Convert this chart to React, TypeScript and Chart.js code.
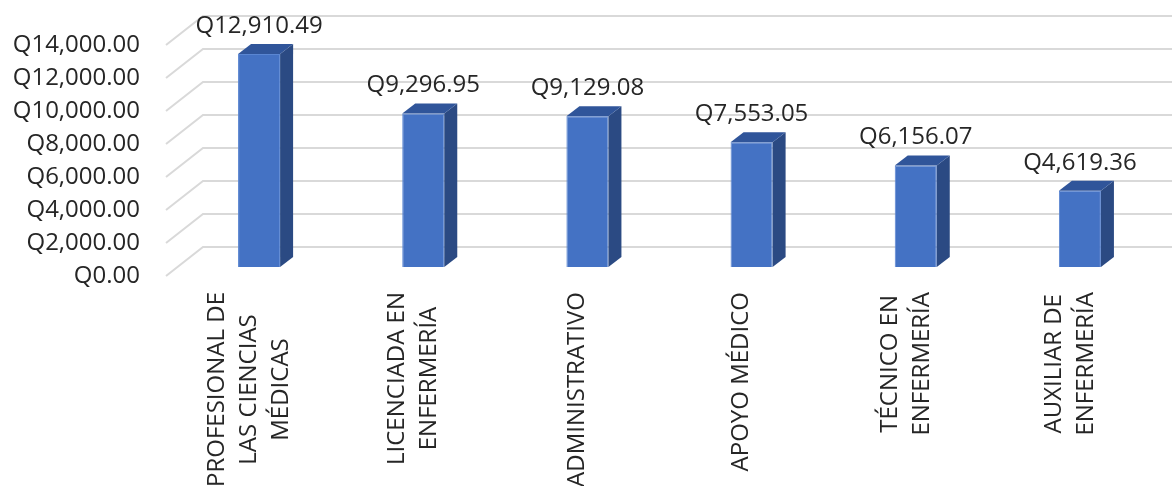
import React, { useEffect, useRef } from "react";
import { Chart, registerables } from "chart.js";

Chart.register(...registerables);

const categories: string[][] = [
  ["PROFESIONAL DE", "LAS CIENCIAS", "MÉDICAS"],
  ["LICENCIADA EN", "ENFERMERÍA"],
  ["ADMINISTRATIVO"],
  ["APOYO MÉDICO"],
  ["TÉCNICO EN", "ENFERMERÍA"],
  ["AUXILIAR DE", "ENFERMERÍA"],
];
const salaries: number[] = [12910.49, 9296.95, 9129.08, 7553.05, 6156.07, 4619.36];
const yTicks: number[] = [0, 2000, 4000, 6000, 8000, 10000, 12000, 14000];

const FONT = "'Open Sans', 'Liberation Sans', sans-serif";
const TEXT = "#262626";
const FRONT = "#4472C4";
const SIDE = "#2B4A83";
const TOP = "#30559A";
const GRID = "#D9D9D9";
const DX = 13;
const DY = 10;

const fmt = (v: number) =>
  "Q" + v.toLocaleString("en-US", { minimumFractionDigits: 2, maximumFractionDigits: 2 });

const threeD = {
  id: "threeD",
  beforeDatasetsDraw(chart: any) {
    const ctx = chart.ctx;
    const y = chart.scales.y;
    const left = chart.chartArea.left;
    ctx.save();
    ctx.strokeStyle = GRID;
    ctx.lineWidth = 2;
    yTicks.forEach((t) => {
      const py = y.getPixelForValue(t);
      const by = py - 20;
      ctx.beginPath();
      ctx.moveTo(left - 11, py + 9);
      ctx.lineTo(left + 26, by);
      ctx.lineTo(chart.width, by);
      ctx.stroke();
    });
    ctx.restore();
  },
  afterDatasetsDraw(chart: any) {
    const ctx = chart.ctx;
    const meta = chart.getDatasetMeta(0);
    ctx.save();
    meta.data.forEach((bar: any, i: number) => {
      const p = bar.getProps(["x", "y", "base", "width"], true);
      const l = p.x - p.width / 2;
      const r = p.x + p.width / 2;
      const t = p.y;
      const b = p.base;
      ctx.fillStyle = SIDE;
      ctx.beginPath();
      ctx.moveTo(r, t);
      ctx.lineTo(r + DX, t - DY);
      ctx.lineTo(r + DX, b - DY);
      ctx.lineTo(r, b);
      ctx.closePath();
      ctx.fill();
      ctx.fillStyle = TOP;
      ctx.beginPath();
      ctx.moveTo(l, t);
      ctx.lineTo(l + DX, t - DY);
      ctx.lineTo(r + DX, t - DY);
      ctx.lineTo(r, t);
      ctx.closePath();
      ctx.fill();
      ctx.fillStyle = TEXT;
      ctx.font = `24px ${FONT}`;
      ctx.textAlign = "center";
      ctx.textBaseline = "middle";
      ctx.fillText(fmt(salaries[i]), p.x, t - 28);
    });
    ctx.restore();
  },
  afterDraw(chart: any) {
    const ctx = chart.ctx;
    const x = chart.scales.x;
    ctx.save();
    ctx.fillStyle = TEXT;
    ctx.font = `24px ${FONT}`;
    ctx.textAlign = "center";
    ctx.textBaseline = "middle";
    categories.forEach((lines, i) => {
      const cx = x.getPixelForValue(i) - 10;
      const w = Math.max(...lines.map((s) => ctx.measureText(s).width));
      const cy = 292 + w / 2;
      lines.forEach((s, k) => {
        const lx = cx + (k - (lines.length - 1) / 2) * 32;
        ctx.save();
        ctx.translate(lx, cy);
        ctx.rotate(-Math.PI / 2);
        ctx.fillText(s, 0, 0);
        ctx.restore();
      });
    });
    ctx.restore();
  },
};

export default function App() {
  const ref = useRef<HTMLCanvasElement>(null);
  useEffect(() => {
    if (!ref.current) return;
    const chart = new Chart(ref.current, {
      type: "bar",
      data: {
        labels: categories.map((c) => c.join(" ")),
        datasets: [
          {
            data: salaries,
            backgroundColor: FRONT,
            borderColor: "#5A86D2",
            borderWidth: 1,
            barPercentage: 0.256,
            categoryPercentage: 1,
          },
        ],
      },
      options: {
        animation: false,
        responsive: true,
        maintainAspectRatio: false,
        layout: { padding: { top: 36, right: 10, left: 0, bottom: 0 } },
        plugins: { legend: { display: false }, tooltip: { enabled: false } },
        scales: {
          x: {
            grid: { display: false, drawTicks: false },
            border: { display: false },
            ticks: { display: false },
            afterFit: (s: any) => {
              s.height = 219;
              s.paddingLeft = 0;
              s.paddingRight = 0;
            },
          },
          y: {
            min: 0,
            max: 14000,
            grid: { display: false, drawTicks: false },
            border: { display: false },
            afterFit: (s: any) => {
              s.width = 177;
              s.paddingTop = 0;
              s.paddingBottom = 0;
            },
            afterBuildTicks: (s: any) => {
              s.ticks = yTicks.map((v) => ({ value: v }));
            },
            ticks: {
              padding: 37,
              labelOffset: 9,
              color: TEXT,
              font: { family: FONT, size: 24 },
              callback: (v: any) => fmt(Number(v)),
            },
          },
        },
      },
      plugins: [threeD],
    });
    return () => chart.destroy();
  }, []);
  return (
    <div style={{ position: "absolute", left: 0, top: 0, width: 1172, height: 486, background: "#fff" }}>
      <canvas ref={ref} />
    </div>
  );
}
